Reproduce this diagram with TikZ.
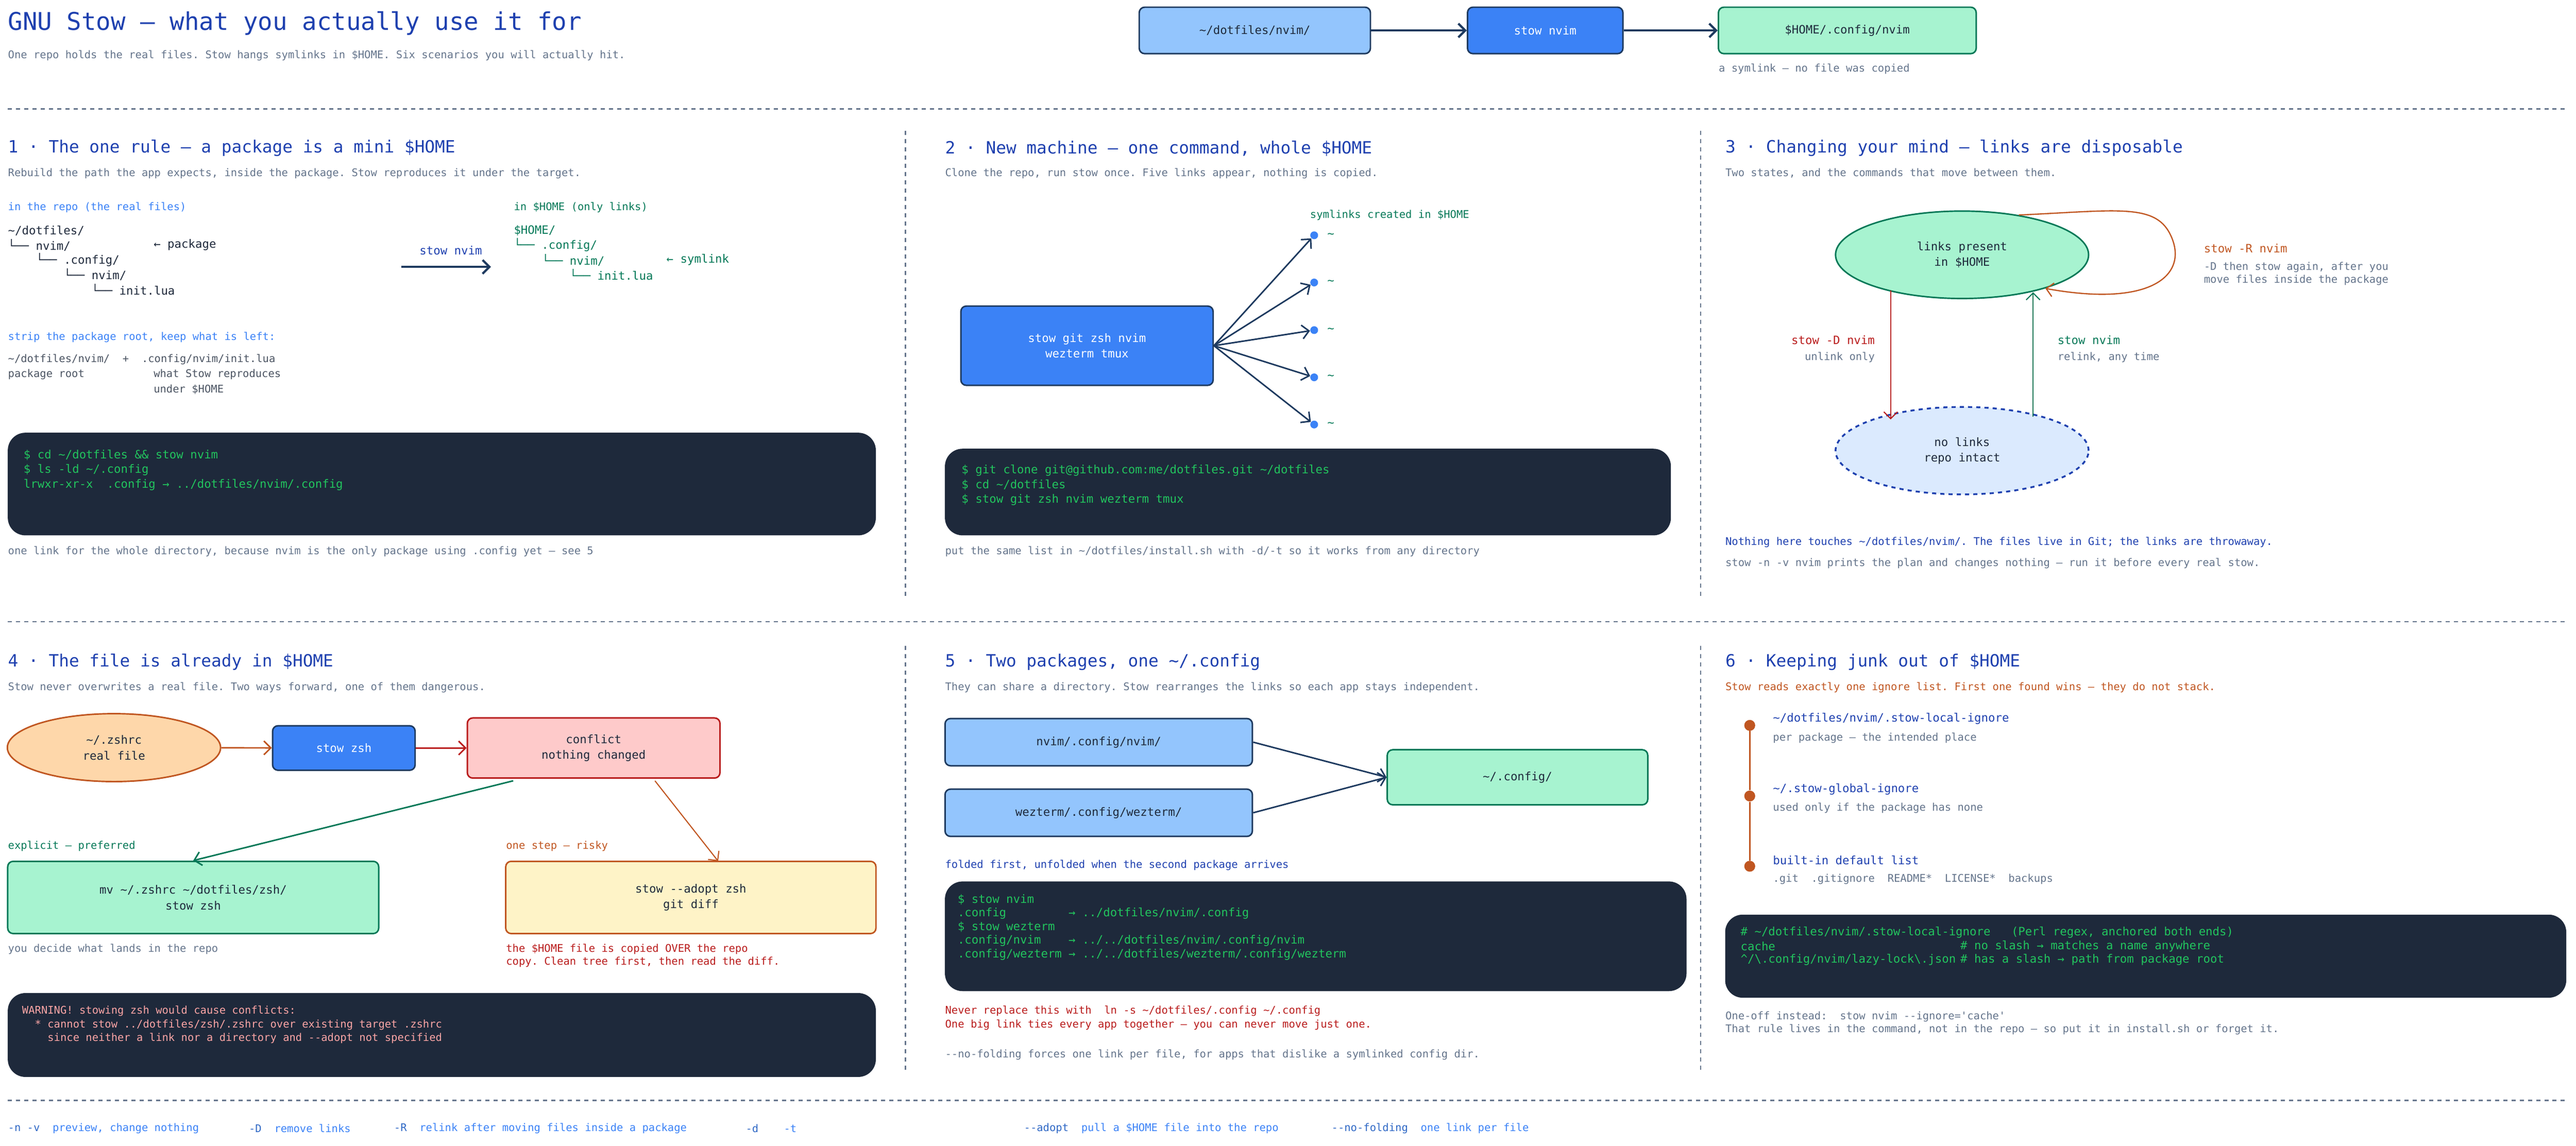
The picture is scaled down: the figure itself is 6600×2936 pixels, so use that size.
\documentclass[tikz,border=0pt]{standalone}
\usepackage{fontspec}
\setmonofont{DejaVu Sans Mono}
\usetikzlibrary{arrows.meta,shapes.geometric}
\definecolor{navy}{HTML}{1E3A5F}
\definecolor{head}{HTML}{1E40AF}
\definecolor{gray}{HTML}{64748B}
\definecolor{ink}{HTML}{1E293B}
\definecolor{codebg}{HTML}{1E293B}
\definecolor{codegreen}{HTML}{22C55E}
\definecolor{lblue}{HTML}{93C5FD}
\definecolor{mblue}{HTML}{3B82F6}
\definecolor{mint}{HTML}{A7F3D0}
\definecolor{green}{HTML}{047857}
\definecolor{rust}{HTML}{C05621}
\definecolor{red}{HTML}{B91C1C}
\definecolor{pink}{HTML}{FECACA}
\definecolor{peach}{HTML}{FED7AA}
\definecolor{cream}{HTML}{FEF3C7}
\definecolor{pale}{HTML}{DBEAFE}
\definecolor{warn}{HTML}{FCA5A5}
\newcommand\fsm{\fontsize{7.7}{10}\selectfont}
\newcommand\fmd{\fontsize{8.4}{11.4}\selectfont}
\newcommand\fhd{\fontsize{12.3}{15}\selectfont}
\newcommand\fti{\fontsize{17.8}{21}\selectfont}
\newcommand\tld{\textasciitilde}
\tikzset{
  every node/.style={font=\ttfamily\fsm, inner sep=0pt},
  lbl/.style={anchor=west, text=gray},
  hd/.style={anchor=west, text=head, font=\ttfamily\fhd},
  tr/.style={anchor=west, text=ink, font=\ttfamily\fmd},
  box/.style={draw=navy, line width=1.1pt, rounded corners=0.14cm, align=center, font=\ttfamily\fmd, text=ink},
  code/.style={fill=codebg, rounded corners=0.45cm},
  cl/.style={anchor=west, text=codegreen, font=\ttfamily\fmd},
  arr/.style={-{Straight Barb[length=5pt,width=10pt]}, line width=1.1pt, draw=navy},
  sepline/.style={gray, dashed, line width=0.9pt},
  dot/.style={circle, fill=mblue, minimum size=0.2cm},
  stepdot/.style={circle, fill=rust, minimum size=0.28cm}
}
\begin{document}
\begin{tikzpicture}[x=0.01cm, y=-0.01cm]
  \useasboundingbox (0,0) rectangle (6600,2936);

  % header
  \node[anchor=west, text=head, font=\ttfamily\fti] (title) at (20,60) {GNU Stow — what you actually use it for};
  \node[lbl] (subtitle) at (20,143) {One repo holds the real files. Stow hangs symlinks in \$HOME. Six scenarios you will actually hit.};
  \node[box, fill=lblue, minimum width=5.92cm, minimum height=1.19cm] (repo) at (3215,78) {\tld/dotfiles/nvim/};
  \node[box, fill=mblue, text=white, minimum width=3.98cm, minimum height=1.19cm] (cmd) at (3959,78) {stow nvim};
  \node[box, fill=mint, draw=green, minimum width=6.6cm, minimum height=1.19cm] (target) at (4733,78) {\$HOME/.config/nvim};
  \draw[arr, line width=1.6pt] (repo) -- (cmd);
  \draw[arr, line width=1.6pt] (cmd) -- (target);
  \node[lbl] (note) at (4403,177) {a symlink — no file was copied};
  \draw[sepline] (20,279) -- (6580,279);
  \draw[sepline] (2320,335) -- (2320,1530);
  \draw[sepline] (4357,335) -- (4357,1530);
  \draw[sepline] (20,1593) -- (6580,1593);
  \draw[sepline] (2320,1655) -- (2320,2745);
  \draw[sepline] (4357,1655) -- (4357,2745);
  \draw[sepline] (20,2820) -- (6580,2820);

  % 1 one rule
  \node[hd] (h1) at (20,380) {1 · The one rule — a package is a mini \$HOME};
  \node[lbl] (s1) at (20,444) {Rebuild the path the app expects, inside the package. Stow reproduces it under the target.};
  \node[anchor=west, text=mblue] (repolbl) at (20,532) {in the repo (the real files)};
  \node[tr] (t1) at (20,591) {\tld/dotfiles/};
  \node[tr] (t2) at (20,628) {└── nvim/};
  \node[tr] (t3) at (92,666) {└── .config/};
  \node[tr] (t4) at (163,704) {└── nvim/};
  \node[tr] (t5) at (234,742) {└── init.lua};
  \node[tr] (pkg) at (393,628) {← package};
  \node[text=head, font=\ttfamily\fmd] (stowlbl) at (1155,642) {stow nvim};
  \coordinate (sa) at (1028,684);
  \coordinate (sb) at (1258,684);
  \draw[arr, line width=1.6pt] (sa) -- (sb);
  \node[anchor=west, text=green] (homelbl) at (1316,532) {in \$HOME (only links)};
  \node[tr, text=green] (u1) at (1316,591) {\$HOME/};
  \node[tr, text=green] (u2) at (1316,628) {└── .config/};
  \node[tr, text=green] (u3) at (1388,666) {└── nvim/};
  \node[tr, text=green] (u4) at (1459,704) {└── init.lua};
  \node[tr, text=green] (sym) at (1707,666) {← symlink};
  \node[anchor=west, text=mblue] (strip) at (20,864) {strip the package root, keep what is left:};
  \node[anchor=west, text=ink!80] (p1) at (20,921) {\tld/dotfiles/nvim/\ \ +\ \ .config/nvim/init.lua};
  \node[anchor=west, text=ink!80] (p2) at (20,959) {package root};
  \node[anchor=west, text=ink!80] (p3) at (393,959) {what Stow reproduces};
  \node[anchor=west, text=ink!80] (p4) at (393,998) {under \$HOME};
  \fill[code] (20,1109) rectangle (2244,1372);
  \node[cl] (c11) at (60,1166) {\$ cd \tld/dotfiles \&\& stow nvim};
  \node[cl] (c12) at (60,1204) {\$ ls -ld \tld/.config};
  \node[cl] (c13) at (60,1242) {lrwxr-xr-x\ \ .config → ../dotfiles/nvim/.config};
  \node[lbl] (n1) at (20,1414) {one link for the whole directory, because nvim is the only package using .config yet — see 5};

  % 2 new machine
  \node[hd] (h2) at (2421,380) {2 · New machine — one command, whole \$HOME};
  \node[lbl] (s2) at (2421,444) {Clone the repo, run stow once. Five links appear, nothing is copied.};
  \node[box, fill=mblue, text=white, minimum width=6.46cm, minimum height=2.03cm] (stowall) at (2785,886) {stow git zsh nvim\\wezterm tmux};
  \node[anchor=west, text=green] (created) at (3356,552) {symlinks created in \$HOME};
  \foreach \i/\y/\t in {1/603/\tld/.gitconfig, 2/724/\tld/.zshrc, 3/846/\tld/.config/nvim/, 4/967/\tld/.config/wezterm/, 5/1088/\tld/.tmux.conf} {
    \node[dot] (d\i) at (3367,\y) {};
    \node[tr, text=green] (l\i) at (3400,\y) {\t};
    \draw[arr] (stowall.east) -- (d\i);
  }
  \fill[code] (2421,1150) rectangle (4281,1372);
  \node[cl] (c21) at (2463,1205) {\$ git clone git@github.com:me/dotfiles.git \tld/dotfiles};
  \node[cl] (c22) at (2463,1243) {\$ cd \tld/dotfiles};
  \node[cl] (c23) at (2463,1281) {\$ stow git zsh nvim wezterm tmux};
  \node[lbl] (n2) at (2421,1414) {put the same list in \tld/dotfiles/install.sh with -d/-t so it works from any directory};

  % 3 changing your mind
  \node[hd] (h3) at (4420,380) {3 · Changing your mind — links are disposable};
  \node[lbl] (s3) at (4420,444) {Two states, and the commands that move between them.};
  \node[ellipse, draw=green, fill=mint, line width=1.1pt, minimum width=6.48cm, minimum height=2.24cm, align=center, font=\ttfamily\fmd, text=ink] (links) at (5027,653) {links present\\in \$HOME};
  \node[ellipse, draw=head, fill=pale, dashed, line width=1.3pt, minimum width=6.48cm, minimum height=2.24cm, align=center, font=\ttfamily\fmd, text=ink] (nolinks) at (5027,1155) {no links\\repo intact};
  \coordinate (da) at (4844,744);
  \coordinate (db) at (4844,1075);
  \coordinate (ua) at (5209,1068);
  \coordinate (ub) at (5209,749);
  \draw[arr, draw=red, line width=0.8pt] (da) -- (db);
  \draw[arr, draw=green, line width=0.8pt] (ua) -- (ub);
  \node[anchor=east, text=red, font=\ttfamily\fmd] (unst) at (4804,872) {stow -D nvim};
  \node[anchor=east, text=gray] (unst2) at (4804,916) {unlink only};
  \node[anchor=west, text=green, font=\ttfamily\fmd] (rest) at (5271,872) {stow nvim};
  \node[anchor=west, text=gray] (rest2) at (5271,916) {relink, any time};
  \draw[arr, draw=rust, line width=0.9pt] (links.35) .. controls (5420,540) and (5520,520) .. (5560,600) .. controls (5610,700) and (5520,790) .. (links.-22);
  \node[anchor=west, text=rust, font=\ttfamily\fmd] (rel) at (5646,637) {stow -R nvim};
  \node[lbl] (rel2) at (5646,685) {-D then stow again, after you};
  \node[lbl] (rel3) at (5646,718) {move files inside the package};
  \node[anchor=west, text=head] (n3) at (4420,1390) {Nothing here touches \tld/dotfiles/nvim/. The files live in Git; the links are throwaway.};
  \node[lbl] (n3b) at (4420,1444) {stow -n -v nvim prints the plan and changes nothing — run it before every real stow.};

  % 4 file already in home
  \node[hd] (h4) at (20,1697) {4 · The file is already in \$HOME};
  \node[lbl] (s4) at (20,1762) {Stow never overwrites a real file. Two ways forward, one of them dangerous.};
  \node[ellipse, draw=rust, fill=peach, line width=1.1pt, minimum width=5.46cm, minimum height=1.74cm, align=center, font=\ttfamily\fmd, text=ink] (real) at (292,1916) {\tld/.zshrc\\real file};
  \node[box, fill=mblue, text=white, minimum width=3.65cm, minimum height=1.14cm] (stowzsh) at (881,1917) {stow zsh};
  \node[box, draw=red, fill=pink, minimum width=6.47cm, minimum height=1.54cm] (conflict) at (1521,1917) {conflict\\nothing changed};
  \draw[arr, draw=rust] (real) -- (stowzsh);
  \draw[arr, draw=red] (stowzsh) -- (conflict);
  \node[box, draw=green, fill=mint, minimum width=9.5cm, minimum height=1.85cm] (mvbox) at (495,2300) {mv \tld/.zshrc \tld/dotfiles/zsh/\\stow zsh};
  \node[box, draw=rust, fill=cream, minimum width=9.48cm, minimum height=1.85cm] (adopt) at (1770,2300) {stow --adopt zsh\\git diff};
  \coordinate (ga) at (1315,2001);
  \coordinate (oa) at (1678,2001);
  \coordinate (ob) at (1840,2207);
  \draw[arr, draw=green] (ga) -- (mvbox.north);
  \draw[arr, draw=rust, line width=0.8pt] (oa) -- (ob);
  \node[anchor=west, text=green] (pref) at (20,2168) {explicit — preferred};
  \node[anchor=west, text=rust] (risky) at (1296,2168) {one step — risky};
  \node[lbl] (n4) at (20,2433) {you decide what lands in the repo};
  \node[anchor=west, text=red] (n4b) at (1296,2433) {the \$HOME file is copied OVER the repo};
  \node[anchor=west, text=red] (n4c) at (1296,2466) {copy. Clean tree first, then read the diff.};
  \fill[code] (20,2545) rectangle (2244,2760);
  \node[anchor=west, text=warn] (w1) at (56,2591) {WARNING! stowing zsh would cause conflicts:};
  \node[anchor=west, text=warn] (w2) at (56,2626) {\ \ * cannot stow ../dotfiles/zsh/.zshrc over existing target .zshrc};
  \node[anchor=west, text=warn] (w3) at (56,2661) {\ \ \ \ since neither a link nor a directory and --adopt not specified};

  % 5 two packages
  \node[hd] (h5) at (2421,1697) {5 · Two packages, one \tld/.config};
  \node[lbl] (s5) at (2421,1762) {They can share a directory. Stow rearranges the links so each app stays independent.};
  \node[box, fill=lblue, minimum width=7.87cm, minimum height=1.21cm] (nvimpkg) at (2815,1902) {nvim/.config/nvim/};
  \node[box, fill=lblue, minimum width=7.87cm, minimum height=1.21cm] (wezpkg) at (2815,2083) {wezterm/.config/wezterm/};
  \node[box, draw=green, fill=mint, minimum width=6.67cm, minimum height=1.41cm] (cfg) at (3888,1992) {\tld/.config/};
  \draw[arr] (nvimpkg.east) -- (cfg.west);
  \draw[arr] (wezpkg.east) -- (cfg.west);
  \node[anchor=west, text=head] (fold) at (2421,2218) {folded first, unfolded when the second package arrives};
  \fill[code] (2421,2259) rectangle (4321,2540);
  \node[cl] (c51) at (2453,2306) {\$ stow nvim};
  \node[cl] (c52) at (2453,2341) {.config};
  \node[cl] (c53) at (2453,2376) {\$ stow wezterm};
  \node[cl] (c54) at (2453,2411) {.config/nvim};
  \node[cl] (c55) at (2453,2446) {.config/wezterm};
  \node[cl] (c52b) at (2737,2341) {→ ../dotfiles/nvim/.config};
  \node[cl] (c54b) at (2737,2411) {→ ../../dotfiles/nvim/.config/nvim};
  \node[cl] (c55b) at (2737,2446) {→ ../../dotfiles/wezterm/.config/wezterm};
  \node[anchor=west, text=red] (n5) at (2421,2591) {Never replace this with\ \ ln -s \tld/dotfiles/.config \tld/.config};
  \node[anchor=west, text=red] (n5b) at (2421,2626) {One big link ties every app together — you can never move just one.};
  \node[lbl] (n5c) at (2421,2703) {--no-folding forces one link per file, for apps that dislike a symlinked config dir.};

  % 6 ignore lists
  \node[hd] (h6) at (4420,1697) {6 · Keeping junk out of \$HOME};
  \node[anchor=west, text=rust] (s6) at (4420,1762) {Stow reads exactly one ignore list. First one found wins — they do not stack.};
  \node[stepdot] (i1) at (4483,1859) {};
  \node[stepdot] (i2) at (4483,2040) {};
  \node[stepdot] (i3) at (4483,2220) {};
  \draw[rust, line width=1.1pt] (i1) -- (i2) -- (i3);
  \node[tr, text=head] (k1) at (4542,1842) {\tld/dotfiles/nvim/.stow-local-ignore};
  \node[lbl] (k1b) at (4542,1891) {per package — the intended place};
  \node[tr, text=head] (k2) at (4542,2023) {\tld/.stow-global-ignore};
  \node[lbl] (k2b) at (4542,2071) {used only if the package has none};
  \node[tr, text=head] (k3) at (4542,2204) {built-in default list};
  \node[lbl] (k3b) at (4542,2253) {.git\ \ .gitignore\ \ README*\ \ LICENSE*\ \ backups};
  \fill[code] (4420,2344) rectangle (6575,2557);
  \node[cl] (c61) at (4459,2390) {\# \tld/dotfiles/nvim/.stow-local-ignore\ \ \ (Perl regex, anchored both ends)};
  \node[cl] (c62) at (4459,2425) {cache};
  \node[cl] (c63) at (4459,2460) {\textasciicircum/\textbackslash.config/nvim/lazy-lock\textbackslash.json};
  \node[cl] (c62b) at (5022,2425) {\# no slash → matches a name anywhere};
  \node[cl] (c63b) at (5022,2460) {\# has a slash → path from package root};
  \node[lbl] (n6) at (4420,2606) {One-off instead:\ \ stow nvim --ignore='cache'};
  \node[lbl] (n6b) at (4420,2639) {That rule lives in the command, not in the repo — so put it in install.sh or forget it.};

  % footer
  \foreach \x/\f/\t in {20/-n -v/{preview, change nothing}, 637/-D/remove links, 1009/-R/relink after moving files inside a package, 1910/-d / -t/explicit source and target, 2623/--adopt/pull a \$HOME file into the repo, 3411/--no-folding/one link per file}
    \node[anchor=west, text=mblue] at (\x,2892) {\textcolor{mblue!80!black}{\f}\ \ \t};
\end{tikzpicture}
\end{document}
